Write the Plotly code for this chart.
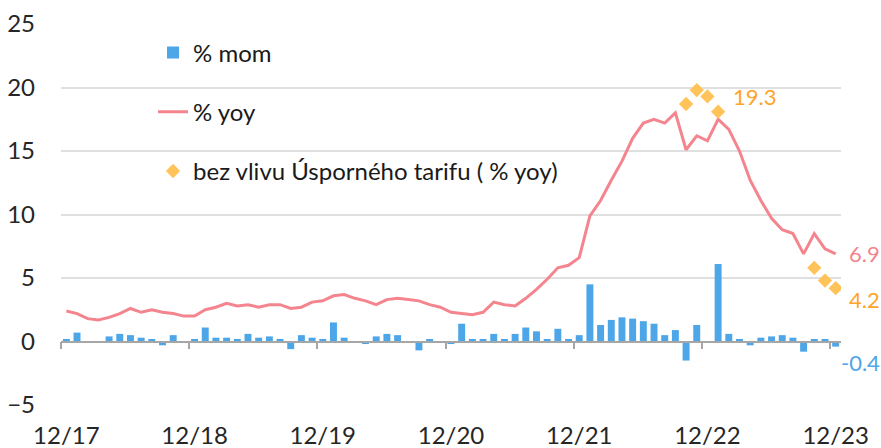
import plotly.graph_objects as go

# Monthly data 12/2017 .. 12/2023 (73 months)
months = [f"{m:02d}/{y % 100:02d}" for y in range(2017, 2024) for m in range(1, 13)][11:]

mom = [0.2,
       0.7, 0.0, -0.1, 0.4, 0.6, 0.5, 0.3, 0.2, -0.3, 0.5, -0.1, 0.2,
       1.1, 0.3, 0.3, 0.2, 0.6, 0.3, 0.4, 0.2, -0.6, 0.5, 0.3, 0.2,
       1.5, 0.3, -0.1, -0.2, 0.4, 0.6, 0.5, 0.0, -0.7, 0.2, 0.0, -0.2,
       1.4, 0.2, 0.2, 0.6, 0.2, 0.6, 1.1, 0.8, 0.2, 1.0, 0.2, 0.5,
       4.5, 1.3, 1.7, 1.9, 1.8, 1.6, 1.4, 0.5, 0.9, -1.5, 1.3, 0.0,
       6.1, 0.6, 0.2, -0.3, 0.3, 0.4, 0.5, 0.3, -0.8, 0.2, 0.2, -0.4]

yoy = [2.4,
       2.2, 1.8, 1.7, 1.9, 2.2, 2.6, 2.3, 2.5, 2.3, 2.2, 2.0, 2.0,
       2.5, 2.7, 3.0, 2.8, 2.9, 2.7, 2.9, 2.9, 2.6, 2.7, 3.1, 3.2,
       3.6, 3.7, 3.4, 3.2, 2.9, 3.3, 3.4, 3.3, 3.2, 2.9, 2.7, 2.3,
       2.2, 2.1, 2.3, 3.1, 2.9, 2.8, 3.4, 4.1, 4.9, 5.8, 6.0, 6.6,
       9.9, 11.1, 12.7, 14.2, 16.0, 17.2, 17.5, 17.2, 18.0, 15.1, 16.2, 15.8,
       17.5, 16.7, 15.0, 12.7, 11.1, 9.7, 8.8, 8.5, 6.9, 8.5, 7.3, 6.9]

# "bez vlivu Úsporného tarifu" (yoy) – only some months
tariff_months = ["10/22", "11/22", "12/22", "01/23", "10/23", "11/23", "12/23"]
tariff_vals = [18.7, 19.8, 19.3, 18.1, 5.8, 4.8, 4.2]

tick_labels = ["12/17", "12/18", "12/19", "12/20", "12/21", "12/22", "12/23"]

idx = list(range(len(months)))
pos = {m: i for i, m in enumerate(months)}
tariff_x = [pos[m] for m in tariff_months]
label_x = [pos["12/" + t.split("/")[1]] for t in tick_labels]

BLUE = "#4DA6E8"
PINK = "#F4858E"
ORANGE = "#FFC35A"
ORANGE_TXT = "#FFA42B"
FONT = "Lato, 'Open Sans', sans-serif"
FS = 24
AFS = 22

fig = go.Figure()
fig.add_trace(go.Bar(x=idx, y=mom, name="% mom", marker_color=BLUE,
                     marker_line_width=0, legendgroup="a", hovertext=months))
fig.add_trace(go.Scatter(x=idx, y=yoy, name="% yoy", mode="lines",
                         line=dict(color=PINK, width=3), legendgroup="b",
                         hovertext=months))
fig.add_trace(go.Scatter(x=tariff_x, y=tariff_vals,
                         name="bez vlivu Úsporného tarifu ( % yoy)",
                         mode="markers",
                         marker=dict(symbol="diamond", size=11, color=ORANGE),
                         legendgroup="c"))
# helper trace so the zero-crossing axis is drawn
fig.add_trace(go.Scatter(x=[0], y=[None], xaxis="x2", showlegend=False,
                         hoverinfo="skip", mode="markers"))

# value labels
last = len(months) - 1
fig.add_annotation(x=pos["12/22"], y=tariff_vals[2], text="19.3", showarrow=False,
                   xanchor="left", xshift=24, font=dict(color=ORANGE_TXT, size=AFS, family=FONT))
fig.add_annotation(x=last, y=yoy[-1], text="6.9", showarrow=False,
                   xanchor="left", xshift=11, font=dict(color=PINK, size=AFS, family=FONT))
fig.add_annotation(x=last, y=tariff_vals[-1], text="4.2", showarrow=False,
                   xanchor="left", xshift=11, yshift=-11,
                   font=dict(color=ORANGE_TXT, size=AFS, family=FONT))
fig.add_annotation(x=last, y=mom[-1], text="-0.4", showarrow=False,
                   xanchor="left", xshift=3, yshift=-16,
                   font=dict(color=BLUE, size=AFS, family=FONT))

fig.update_layout(
    width=881, height=448,
    margin=dict(l=61, r=40, t=24, b=43),
    paper_bgcolor="white", plot_bgcolor="white",
    font=dict(family=FONT, size=FS, color="#262626"),
    bargap=0.35,
    showlegend=True,
    legend=dict(x=0.118, y=0.983, xanchor="left", yanchor="top",
                bgcolor="rgba(0,0,0,0)", tracegroupgap=25,
                traceorder="grouped", font=dict(size=FS, color="#1a1a1a")),
    xaxis=dict(range=[-0.5, 72.5], tickvals=label_x, ticktext=tick_labels,
               showgrid=False, zeroline=False, showline=False, ticks="",
               automargin=False,
               ticklabelstandoff=14, tickfont=dict(size=FS, color="#262626")),
    xaxis2=dict(range=[-0.5, 72.5], overlaying="x", anchor="free", position=5 / 30,
                showline=True, linecolor="#A6A6A6", linewidth=1.5,
                ticks="outside", ticklen=7, tickwidth=1.5, tickcolor="#A6A6A6",
                tickvals=[-0.5 + 12 * k for k in range(7)], automargin=False,
                showticklabels=False, showgrid=False, zeroline=False),
    yaxis=dict(range=[-5, 25], tickvals=[-5, 0, 5, 10, 15, 20, 25],
               showgrid=True, gridcolor="#E0E0E0", gridwidth=1.5,
               zeroline=False, showline=False, ticks="", automargin=False,
               ticklabelstandoff=25, tickfont=dict(size=FS, color="#262626")),
)

# remove the page's default body margin so the 881x448 figure fills the window
fig.write_html("out.html", config={"displayModeBar": False},
               post_script="document.body.style.margin='0';document.body.style.overflow='hidden';")
